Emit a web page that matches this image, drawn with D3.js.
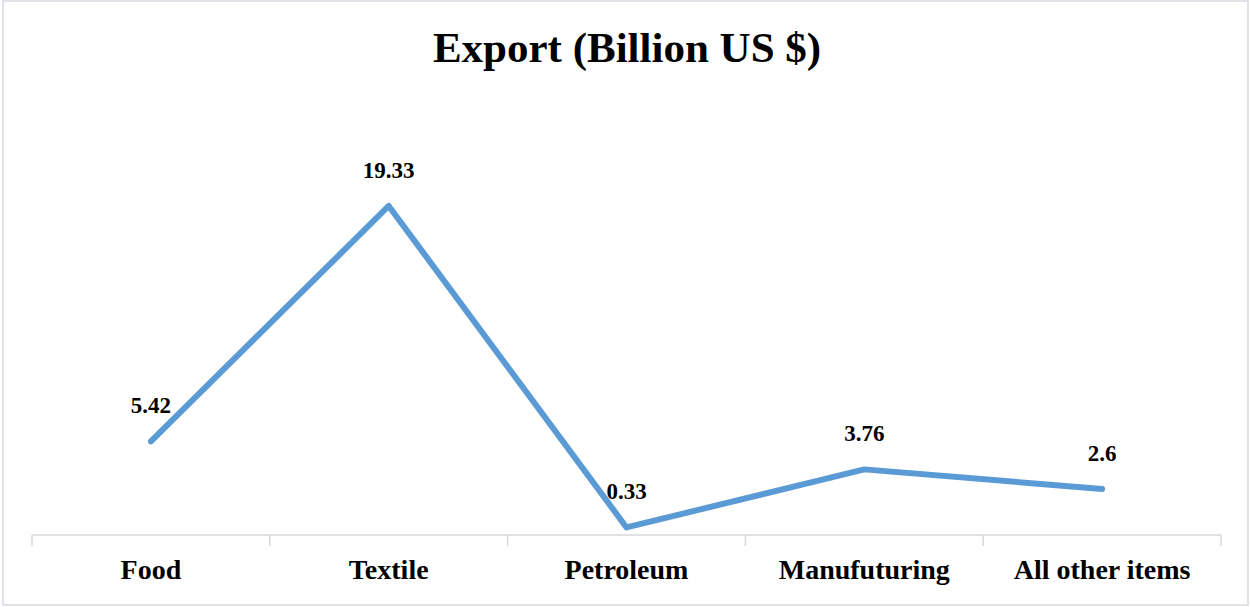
<!DOCTYPE html>
<html>
<head>
<meta charset="utf-8">
<script src="https://cdn.jsdelivr.net/npm/d3@7"></script>
<style>
  html, body { margin: 0; padding: 0; background: #fff; }
  svg { display: block; }
  text { font-family: "Liberation Serif", "Times New Roman", serif; font-weight: bold; fill: #000; }
</style>
</head>
<body>
<svg id="chart" width="1250" height="607"></svg>
<script>
// Export values by sector (billion US $)
const categories = ["Food", "Textile", "Petroleum", "Manufuturing", "All other items"];
const exportValues = [5.42, 19.33, 0.33, 3.76, 2.6];
const valueLabels = ["5.42", "19.33", "0.33", "3.76", "2.6"];
const chartTitle = "Export (Billion US $)";

const W = 1250, H = 607;
const plot = { left: 32, right: 1221, top: 110, bottom: 533 };
const axisY = 535;

const svg = d3.select("#chart");

// outer frame
svg.append("rect")
  .attr("x", 3).attr("y", 1)
  .attr("width", W - 5).attr("height", H - 3)
  .attr("fill", "none")
  .attr("stroke", "#dfe2e7")
  .attr("stroke-width", 2);

const x = d3.scaleBand()
  .domain(categories)
  .range([plot.left, plot.right])
  .paddingInner(0).paddingOuter(0);

const y = d3.scaleLinear()
  .domain([0, 25])
  .range([plot.bottom, plot.top]);

// title
svg.append("text")
  .attr("x", 627).attr("y", 62)
  .attr("text-anchor", "middle")
  .style("font-size", "43px")
  .text(chartTitle);

// category axis: line plus tick marks at band boundaries
const axisG = svg.append("g");
axisG.append("line")
  .attr("x1", plot.left).attr("x2", plot.right)
  .attr("y1", axisY).attr("y2", axisY)
  .attr("stroke", "#d9d9d9").attr("stroke-width", 1.5);

const boundaries = categories.map(c => x(c)).concat([x(categories[categories.length - 1]) + x.bandwidth()]);
axisG.selectAll("line.tick")
  .data(boundaries)
  .join("line")
  .attr("class", "tick")
  .attr("x1", d => d).attr("x2", d => d)
  .attr("y1", axisY).attr("y2", axisY + 11)
  .attr("stroke", "#d9d9d9").attr("stroke-width", 1.5);

axisG.selectAll("text.cat")
  .data(categories)
  .join("text")
  .attr("class", "cat")
  .attr("x", d => x(d) + x.bandwidth() / 2)
  .attr("y", 579)
  .attr("text-anchor", "middle")
  .style("font-size", "28px")
  .text(d => d);

const cx = c => x(c) + x.bandwidth() / 2;

// series line
const line = d3.line()
  .x((d, i) => cx(categories[i]))
  .y(d => y(d));

svg.append("path")
  .datum(exportValues)
  .attr("d", line)
  .attr("fill", "none")
  .attr("stroke", "#5b9bd5")
  .attr("stroke-width", 6)
  .attr("stroke-linecap", "round")
  .attr("stroke-linejoin", "round");

// data labels
svg.selectAll("text.val")
  .data(exportValues)
  .join("text")
  .attr("class", "val")
  .attr("x", (d, i) => cx(categories[i]))
  .attr("y", d => y(d) - 28)
  .attr("text-anchor", "middle")
  .style("font-size", "23px")
  .text((d, i) => valueLabels[i]);
</script>
</body>
</html>
